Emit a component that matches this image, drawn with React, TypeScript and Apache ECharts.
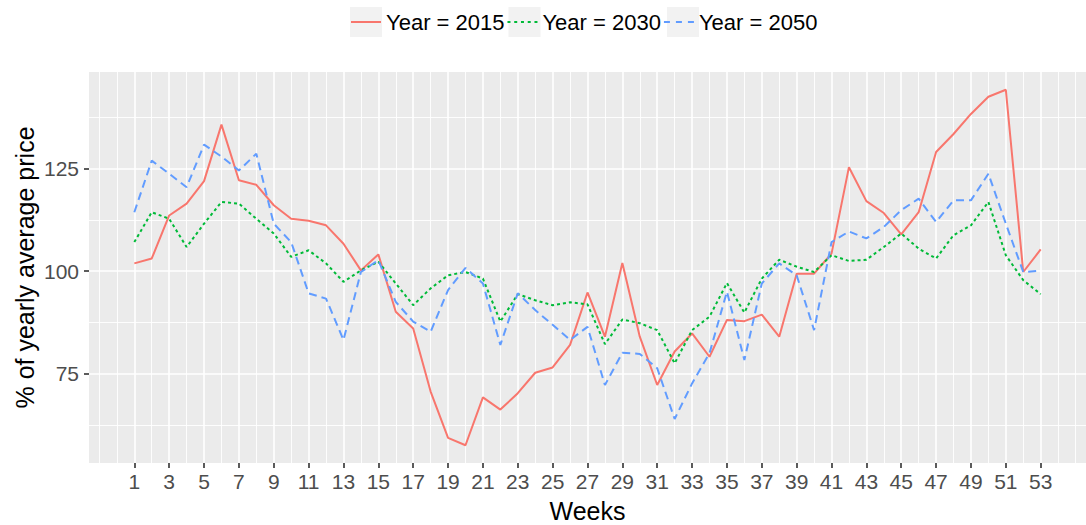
import React, { useEffect, useRef } from "react";
import * as echarts from "echarts";

const weeks = [1, 2, 3, 4, 5, 6, 7, 8, 9, 10, 11, 12, 13, 14, 15, 16, 17, 18, 19, 20, 21, 22, 23, 24, 25, 26, 27, 28, 29, 30, 31, 32, 33, 34, 35, 36, 37, 38, 39, 40, 41, 42, 43, 44, 45, 46, 47, 48, 49, 50, 51, 52, 53];

const year2015 = [101.9, 103.1, 113.6, 116.5, 122.0, 135.8, 122.2, 121.1, 116.1, 112.8, 112.3, 111.2, 106.7, 100.2, 104.1, 90.1, 86.0, 70.6, 59.3, 57.5, 69.2, 66.2, 70.2, 75.2, 76.5, 82.0, 94.8, 84.0, 102.0, 84.0, 72.2, 80.4, 84.8, 79.1, 88.1, 87.8, 89.4, 84.0, 99.4, 99.4, 104.3, 125.4, 117.1, 114.2, 109.0, 114.4, 129.1, 133.5, 138.4, 142.6, 144.3, 99.8, 105.3];

const year2030 = [107.1, 114.4, 112.8, 105.9, 111.6, 116.9, 116.5, 112.8, 109.2, 103.5, 105.1, 101.9, 97.4, 100.2, 102.3, 97.0, 91.7, 95.8, 99.0, 99.8, 98.2, 87.7, 94.4, 92.9, 91.7, 92.4, 91.9, 82.2, 88.2, 87.3, 85.6, 77.5, 85.6, 88.9, 97.1, 89.9, 98.2, 102.8, 101.1, 99.8, 103.9, 102.5, 102.8, 105.9, 109.2, 105.5, 103.1, 108.8, 111.2, 116.9, 103.9, 97.8, 94.4];

const year2050 = [114.4, 127.0, 123.8, 120.5, 130.9, 128.0, 124.6, 128.7, 111.6, 107.1, 94.6, 93.3, 83.2, 99.8, 102.7, 92.5, 87.7, 85.2, 95.4, 100.8, 97.0, 82.0, 94.6, 90.5, 86.9, 83.2, 86.4, 72.2, 80.1, 79.8, 76.3, 63.9, 72.6, 80.0, 95.0, 78.3, 97.0, 101.9, 99.0, 85.6, 107.1, 109.7, 108.0, 110.8, 114.9, 117.7, 112.0, 117.3, 117.3, 123.8, 111.6, 99.8, 100.1];

const xMajorTicks = [1, 3, 5, 7, 9, 11, 13, 15, 17, 19, 21, 23, 25, 27, 29, 31, 33, 35, 37, 39, 41, 43, 45, 47, 49, 51, 53];
const xMinorLines = [-1, 0, 2, 4, 6, 8, 10, 12, 14, 16, 18, 20, 22, 24, 26, 28, 30, 32, 34, 36, 38, 40, 42, 44, 46, 48, 50, 52, 54, 55];
const yMajorTicks = [75, 100, 125];
const yMinorLines = [62.5, 87.5, 112.5, 137.5];

const seriesNames = ["Year = 2015", "Year = 2030", "Year = 2050"];
const seriesColors = ["#F8766D", "#00BA38", "#619CFF"];

const FONT = "'Liberation Sans', Arial, Helvetica, sans-serif";

// legend key glyphs (solid, dotted, dashed), 30 x 2 boxes
const legendIcons = [
  "path://M0,0H30V2H0Z",
  "path://M0,0H3V2H0Z M6.75,0H9.75V2H6.75Z M13.5,0H16.5V2H13.5Z M20.25,0H23.25V2H20.25Z M27,0H30V2H27Z",
  "path://M0,0H6V2H0Z M12,0H18V2H12Z M24,0H30V2H24Z",
];

export default function App() {
  const ref = useRef<HTMLDivElement>(null);

  useEffect(() => {
    if (!ref.current) return;
    const chart = echarts.init(ref.current, null, { renderer: "svg" });

    const all = [...year2015, ...year2030, ...year2050];
    const dMin = Math.min(...all);
    const dMax = Math.max(...all);
    const pad = (dMax - dMin) * 0.05;
    const xPad = (weeks[weeks.length - 1] - weeks[0]) * 0.05;
    const xMin = weeks[0] - xPad;
    const xMax = weeks[weeks.length - 1] + xPad;

    const mk = (vals: number[]) => weeks.map((w, i) => [w, vals[i]]);

    const hiddenAxis = {
      axisLine: { show: false, onZero: false },
      axisLabel: { show: false },
    };

    const tickStyle = { color: "#333333", width: 1.6 };

    chart.setOption({
      animation: false,
      textStyle: { fontFamily: FONT },
      grid: {
        left: 89,
        right: 0,
        top: 72,
        bottom: 62,
        show: true,
        backgroundColor: "#EBEBEB",
        borderWidth: 0,
        containLabel: false,
        outerBoundsMode: "none",
      },
      graphic: [
        { type: "rect", z: 0, shape: { x: 350, y: 7, width: 32, height: 30 }, style: { fill: "#F2F2F2" } },
        { type: "rect", z: 0, shape: { x: 508.5, y: 7, width: 32, height: 30 }, style: { fill: "#F2F2F2" } },
        { type: "rect", z: 0, shape: { x: 667, y: 7, width: 32, height: 30 }, style: { fill: "#F2F2F2" } },
      ],
      legend: {
        left: 351,
        top: 11,
        itemWidth: 30,
        itemHeight: 2,
        itemGap: 3,
        padding: 0,
        z: 5,
        data: seriesNames.map((n, i) => ({ name: n, icon: legendIcons[i] })),
        textStyle: { fontSize: 22, color: "#000", fontFamily: FONT },
      },
      xAxis: [
        {
          type: "value",
          min: xMin,
          max: xMax,
          axisLine: { show: false, onZero: false },
          axisTick: {
            show: true,
            customValues: xMajorTicks,
            length: 5,
            lineStyle: tickStyle,
          },
          axisLabel: {
            customValues: xMajorTicks,
            fontSize: 21,
            color: "#4D4D4D",
            margin: 8,
            fontFamily: FONT,
          },
          splitLine: { show: true, lineStyle: { color: "#FFFFFF", width: 1.6 } },
          name: "Weeks",
          nameLocation: "middle",
          nameGap: 35,
          nameMoveOverlap: false,
          nameTextStyle: { fontSize: 25, color: "#000", fontFamily: FONT },
        },
        {
          type: "value",
          min: xMin,
          max: xMax,
          position: "bottom",
          ...hiddenAxis,
          axisTick: { show: false, customValues: xMinorLines },
          splitLine: { show: true, lineStyle: { color: "#FFFFFF", width: 0.9 } },
        },
      ],
      yAxis: [
        {
          type: "value",
          min: dMin - pad,
          max: dMax + pad,
          position: "left",
          axisLine: { show: false, onZero: false },
          axisTick: {
            show: true,
            customValues: yMajorTicks,
            length: 5,
            lineStyle: tickStyle,
          },
          axisLabel: {
            customValues: yMajorTicks,
            fontSize: 21,
            color: "#4D4D4D",
            margin: 10,
            fontFamily: FONT,
          },
          splitLine: { show: true, lineStyle: { color: "#FFFFFF", width: 1.6 } },
          name: "% of yearly average price",
          nameLocation: "middle",
          nameRotate: 90,
          nameGap: 52,
          nameMoveOverlap: false,
          nameTextStyle: { fontSize: 25, color: "#000", fontFamily: FONT },
        },
        {
          type: "value",
          min: dMin - pad,
          max: dMax + pad,
          position: "left",
          ...hiddenAxis,
          axisTick: { show: false, customValues: yMinorLines },
          splitLine: { show: true, lineStyle: { color: "#FFFFFF", width: 0.9 } },
        },
      ],
      series: [
        {
          name: seriesNames[0],
          type: "line",
          xAxisIndex: 0,
          yAxisIndex: 0,
          data: mk(year2015),
          symbol: "none",
          color: seriesColors[0],
          lineStyle: { color: seriesColors[0], width: 2, type: "solid" },
        },
        {
          name: seriesNames[1],
          type: "line",
          xAxisIndex: 0,
          yAxisIndex: 0,
          data: mk(year2030),
          symbol: "none",
          color: seriesColors[1],
          lineStyle: { color: seriesColors[1], width: 2, type: [3, 3] },
        },
        {
          name: seriesNames[2],
          type: "line",
          xAxisIndex: 0,
          yAxisIndex: 0,
          data: mk(year2050),
          symbol: "none",
          color: seriesColors[2],
          lineStyle: { color: seriesColors[2], width: 2, type: [8, 5] },
        },
      ],
    });

    return () => chart.dispose();
  }, []);

  return (
    <div
      ref={ref}
      style={{ position: "fixed", left: 0, top: 0, width: 1086, height: 525, background: "#FFFFFF" }}
    />
  );
}
